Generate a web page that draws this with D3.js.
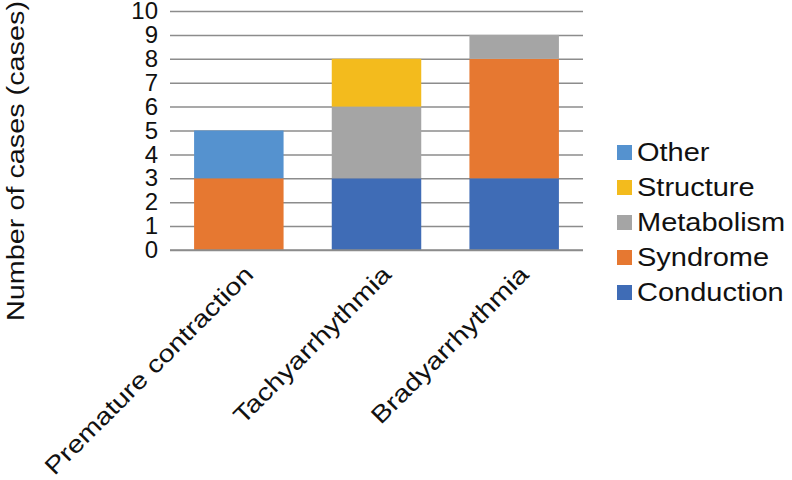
<!DOCTYPE html>
<html>
<head>
<meta charset="utf-8">
<script src="https://cdn.jsdelivr.net/npm/d3@7"></script>
<style>
  body { margin: 0; background: #fff; }
  text { font-family: "Liberation Sans", Arial, sans-serif; fill: #111; }
</style>
</head>
<body>
<svg id="chart" width="792" height="480"></svg>
<script>
// chart data
const categories = ['Premature contraction', 'Tachyarrhythmia', 'Bradyarrhythmia'];
const seriesNames = ['Conduction', 'Syndrome', 'Metabolism', 'Structure', 'Other'];
const conduction = [0, 3, 3];
const syndrome = [3, 0, 5];
const metabolism = [0, 3, 1];
const structure = [0, 2, 0];
const other = [2, 0, 0];
const yTicks = [0, 1, 2, 3, 4, 5, 6, 7, 8, 9, 10];

const colors = {
    Conduction: '#3f6cb6',
    Syndrome: '#e67831',
    Metabolism: '#a5a5a5',
    Structure: '#f3bb1d',
    Other: '#5592cf'
};

const svg = d3.select('#chart');
const margin = { left: 170, right: 209, top: 11, bottom: 230 };
const width = 792 - margin.left - margin.right;
const height = 480 - margin.top - margin.bottom;

const g = svg.append('g')
    .attr('transform', `translate(${margin.left},${margin.top})`);

// build rows for stacking
const rows = categories.map((c, i) => ({
    category: c,
    Conduction: conduction[i],
    Syndrome: syndrome[i],
    Metabolism: metabolism[i],
    Structure: structure[i],
    Other: other[i]
}));
const stacked = d3.stack().keys(seriesNames)(rows);

const x = d3.scaleBand()
    .domain(categories)
    .range([0, width])
    .paddingInner(0.35)
    .paddingOuter(0.175);

const y = d3.scaleLinear()
    .domain([0, 10])
    .range([height, 0]);

// gridlines
g.append('g')
    .attr('class', 'grid')
    .call(d3.axisLeft(y).tickValues(yTicks).tickSize(-width).tickFormat(''))
    .call(sel => sel.select('.domain').remove())
    .selectAll('line')
    .attr('stroke', '#8c8c8c')
    .attr('stroke-width', 1.5);

// bars
g.selectAll('.series')
    .data(stacked)
    .join('g')
    .attr('class', 'series')
    .attr('fill', d => colors[d.key])
    .selectAll('rect')
    .data(d => d)
    .join('rect')
    .attr('x', d => x(d.data.category))
    .attr('y', d => y(d[1]))
    .attr('width', x.bandwidth())
    .attr('height', d => y(d[0]) - y(d[1]));

// bottom axis line
g.append('line')
    .attr('x1', 0).attr('x2', width)
    .attr('y1', height).attr('y2', height)
    .attr('stroke', '#8c8c8c')
    .attr('stroke-width', 1.5);

// y tick labels
const yAxis = g.append('g')
    .call(d3.axisLeft(y).tickValues(yTicks).tickSize(0).tickPadding(12));
yAxis.select('.domain').remove();
yAxis.selectAll('text')
    .attr('font-size', '24px')
    .style('font-family', '"Liberation Sans", Arial, sans-serif')
    .attr('fill', '#111');

// x labels, rotated; the source font is wider than Liberation Sans, so stretch a bit
g.selectAll('.xlabel')
    .data(categories)
    .join('text')
    .attr('class', 'xlabel')
    .attr('text-anchor', 'end')
    .attr('font-size', '24px')
    .attr('transform', d => `translate(${x(d) + x.bandwidth() / 2 + 16},${height + 26}) rotate(-45) scale(1.2,1)`)
    .text(d => d);

// y axis title
svg.append('text')
    .attr('transform', 'translate(24,161) rotate(-90) scale(1.2,1)')
    .attr('text-anchor', 'middle')
    .attr('font-size', '24px')
    .text('Number of cases (cases)');

// legend (reverse order, top = Other)
const legend = svg.append('g')
    .attr('transform', 'translate(617,152.5)');
const legendItems = seriesNames.slice().reverse();
const item = legend.selectAll('.item')
    .data(legendItems)
    .join('g')
    .attr('class', 'item')
    .attr('transform', (d, i) => `translate(0,${i * 35})`);
item.append('rect')
    .attr('x', 0).attr('y', -7.5)
    .attr('width', 15).attr('height', 15)
    .attr('fill', d => colors[d]);
item.append('text')
    .attr('transform', 'translate(20,0) scale(1.16,1)')
    .attr('dy', '0.35em')
    .attr('font-size', '25px')
    .text(d => d);
</script>
</body>
</html>
